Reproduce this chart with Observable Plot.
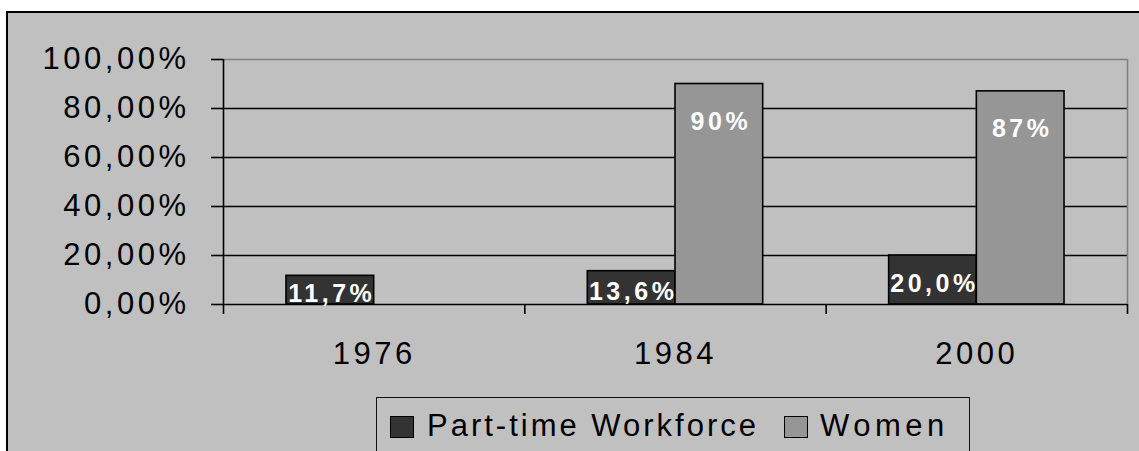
<!DOCTYPE html>
<html>
<head>
<meta charset="utf-8">
<script src="https://cdn.jsdelivr.net/npm/d3@7"></script>
<script src="https://cdn.jsdelivr.net/npm/@observablehq/plot@0.6"></script>
<style>
  html, body { margin: 0; padding: 0; background: #fff; }
  #wrap { position: relative; width: 1139px; height: 451px; overflow: hidden; background: #fff;
          font-family: "Liberation Sans", Arial, sans-serif; }
  #frame { position: absolute; left: 6px; top: 11px; width: 1300px; height: 600px; background: #c0c0c0;
           border-left: 2px solid #000; border-top: 2px solid #000; }
  #chart { position: absolute; left: 0; top: 0; }
  #legend { position: absolute; left: 376px; top: 397px; width: 594px; height: 100px;
            border: 1.5px solid #111; box-sizing: border-box; }
  .sw { position: absolute; width: 22px; height: 20px; border: 1.5px solid #000; }
  .lt { position: absolute; font-size: 31px; line-height: 31px; letter-spacing: 3px; color: #000; white-space: nowrap; }
</style>
</head>
<body>
<div id="wrap">
  <div id="frame"></div>
  <div id="chart"></div>
  <div id="legend"></div>
</div>
<script>
// ---- data ----
const years = ["1976", "1984", "2000"];
const seriesNames = ["Part-time Workforce", "Women"];
const partTime = [11.7, 13.6, 20.0];
const women = [null, 90, 87];
const yTicks = [0, 20, 40, 60, 80, 100];
const seriesColors = ["#333333", "#969696"];

// ---- build table ----
const rows = [];
years.forEach((yr, i) => {
  if (partTime[i] != null) rows.push({i, year: yr, series: seriesNames[0], value: partTime[i], label: partTime[i].toFixed(1).replace(".", ",") + "%"});
  if (women[i] != null) rows.push({i, year: yr, series: seriesNames[1], value: women[i], label: women[i].toFixed(0) + "%"});
});
const W = 0.291; // bar width as fraction of category band
const x1 = d => d.series === seriesNames[0] ? d.i + 0.5 - W : d.i + 0.5;
const x2 = d => d.series === seriesNames[0] ? d.i + 0.5 : d.i + 0.5 + W;
const xc = d => (x1(d) + x2(d)) / 2;

const font = "'Liberation Sans', Arial, sans-serif";

const chart = Plot.plot({
  width: 1139,
  height: 451,
  marginLeft: 223,
  marginRight: 12,
  marginTop: 59,
  marginBottom: 147,
  style: { background: "transparent", fontFamily: font, fontSize: "31px", letterSpacing: "3.5px", color: "#000", overflow: "visible" },
  x: { type: "linear", domain: [0, years.length], axis: null },
  y: { domain: [0, 100], axis: null },
  color: { domain: seriesNames, range: seriesColors },
  marks: [
    Plot.ruleY(yTicks.filter(t => t > 0 && t < 100), { stroke: "#000", strokeWidth: 1.6 }),
    Plot.ruleY([100], { stroke: "#808080", strokeWidth: 1.6 }),
    Plot.ruleX([years.length], { y1: 0, y2: 100, stroke: "#808080", strokeWidth: 1.6 }),
    Plot.rectY(rows, { x1, x2, y1: 0, y2: "value", fill: "series", stroke: "#000", strokeWidth: 1.6 }),
    Plot.ruleX([0], { y1: 0, y2: 100, stroke: "#000", strokeWidth: 1.6 }),
    Plot.ruleY([0], { stroke: "#000", strokeWidth: 1.6 }),
    Plot.axisY({ ticks: yTicks, tickSize: 12, tickPadding: 22, strokeWidth: 1.6, label: null,
      tickFormat: d => d.toFixed(2).replace(".", ",") + "%", fontSize: 31 }),
    Plot.axisX({ ticks: d3.range(years.length + 1), tickSize: 10, strokeWidth: 1.6, label: null, tickFormat: () => "" }),
    Plot.axisX({ ticks: years.map((d, i) => i + 0.5), tickSize: 0, tickPadding: 37, label: null,
      tickFormat: d => years[Math.floor(d)], fontSize: 31 }),
    Plot.text(rows.filter(d => d.series === seriesNames[0]), {
      x: xc, y: d => d.value / 2, text: "label", fill: "#fff", fontWeight: "bold",
      fontSize: 25, dy: 4, dx: 1.5, lineAnchor: "middle" }),
    Plot.text(rows.filter(d => d.series === seriesNames[1]), {
      x: xc, y: "value", text: "label", fill: "#fff", fontWeight: "bold",
      fontSize: 25, dy: 38, dx: 1.5, lineAnchor: "middle" })
  ]
});
document.getElementById("chart").appendChild(chart);

// ---- legend ----
const legend = document.getElementById("legend");
const legendX = [[13, 50], [407, 443]];
const legendSpacing = ["3px", "4.5px"];
seriesNames.forEach((name, k) => {
  const sw = document.createElement("div");
  sw.className = "sw";
  sw.style.left = legendX[k][0] + "px";
  sw.style.top = "18px";
  sw.style.background = seriesColors[k];
  legend.appendChild(sw);
  const t = document.createElement("div");
  t.className = "lt";
  t.style.left = legendX[k][1] + "px";
  t.style.top = "12px";
  t.style.letterSpacing = legendSpacing[k];
  t.textContent = name;
  legend.appendChild(t);
});
</script>
</body>
</html>
